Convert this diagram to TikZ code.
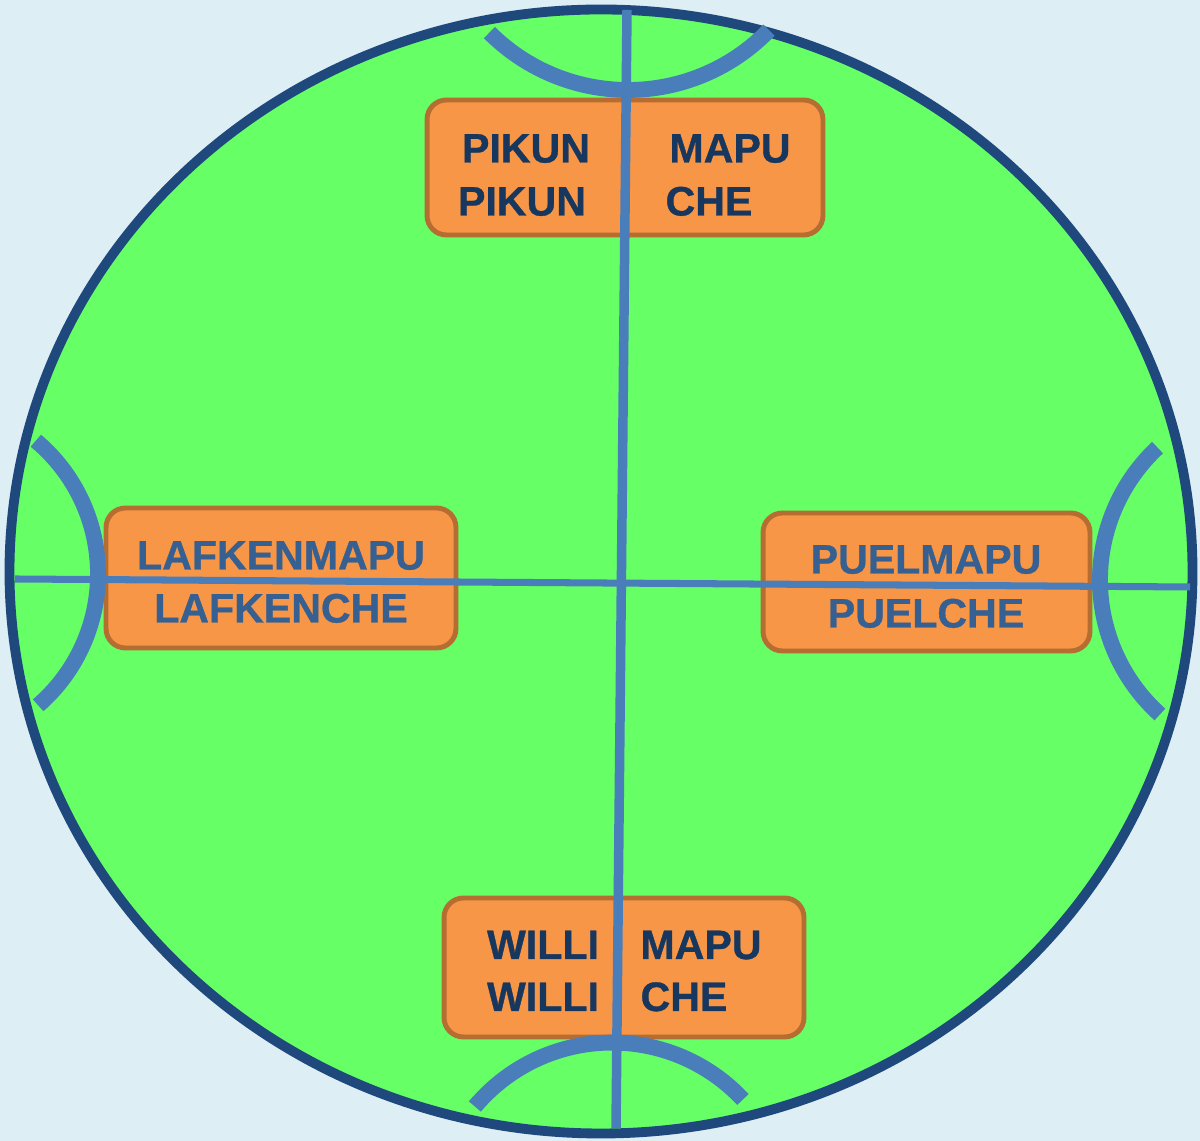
\documentclass[tikz,border=0pt]{standalone}
\usepackage{fontspec}
\setmainfont{Liberation Sans}
\newfontfamily\negrita{Liberation Sans Bold}[FakeBold=0.8]
\definecolor{fondo}{HTML}{DDEEF4}
\definecolor{verde}{HTML}{66FF66}
\definecolor{borde}{HTML}{1F497D}
\definecolor{linea}{HTML}{4A7EBB}
\definecolor{naranja}{HTML}{F79646}
\definecolor{marron}{HTML}{B66D31}
\definecolor{azul}{HTML}{17375E}
\definecolor{azulclaro}{HTML}{366092}
\tikzset{
	caja/.style={draw=marron, fill=naranja, line width=2.8pt, rounded corners=11pt, inner sep=0pt},
	palabra/.style={anchor=base, inner sep=0pt, font=\fontsize{23.4}{30}\selectfont\negrita},
	arco/.style={linea, line width=9pt},
}
\begin{document}
\begin{tikzpicture}[x=0.02cm, y=0.02cm]
		\fill[fondo] (0,0) rectangle (1200,1141);
		\useasboundingbox (0,0) rectangle (1200,1141);
		
		% Circulo
		\draw[borde, fill=verde, line width=5.6pt] (601,569.5) ellipse (591.5 and 562);
		
		% Cajas
		\node[caja, minimum width=7.92cm, minimum height=2.7cm] (pikun) at (625,973.5) {};
		\node[caja, minimum width=7cm, minimum height=2.8cm] (lafken) at (281,563) {};
		\node[caja, minimum width=6.54cm, minimum height=2.76cm] (puel) at (926.5,559) {};
		\node[caja, minimum width=7.2cm, minimum height=2.78cm] (willi) at (624,173.5) {};
		
		% Arcos
		\draw[arco] ([shift={(225:196)}]628,1247) arc[start angle=225, end angle=316, radius=196];
		\draw[arco] ([shift={(50:174)}]-76,567) arc[start angle=50, end angle=-49, radius=174];
		\draw[arco] ([shift={(133:181)}]1281,561) arc[start angle=133, end angle=228, radius=181];
		\draw[arco] ([shift={(140:179)}]612,-80.6) arc[start angle=140, end angle=43, radius=179];
		
		% Ejes
		\draw[linea, line width=5.4pt] (627,1131) -- (616,13);
		\draw[linea, line width=4pt] (15,562) -- (1190,554);
		
		% Textos
		\node[palabra, text=azul] (pikun1) at (526,978.5) {PIKUN};
		\node[palabra, text=azul] (pikun2) at (522,925.5) {PIKUN};
		\node[palabra, text=azul] (mapu1) at (730,978.5) {MAPU};
		\node[palabra, text=azul] (che1) at (709,925.5) {CHE};
		
		\node[palabra, text=azulclaro] (lafkenmapu) at (281,571.5) {LAFKENMAPU};
		\node[palabra, text=azulclaro] (lafkenche) at (281,518.5) {LAFKENCHE};
		
		\node[palabra, text=azulclaro] (puelmapu) at (926,567.5) {PUELMAPU};
		\node[palabra, text=azulclaro] (puelche) at (926,513.5) {PUELCHE};
		
		\node[palabra, text=azul] (willi1) at (543,182) {WILLI};
		\node[palabra, text=azul] (willi2) at (543,130) {WILLI};
		\node[palabra, text=azul] (mapu2) at (701,182) {MAPU};
		\node[palabra, text=azul] (che2) at (684,130) {CHE};
	\end{tikzpicture}
\end{document}
